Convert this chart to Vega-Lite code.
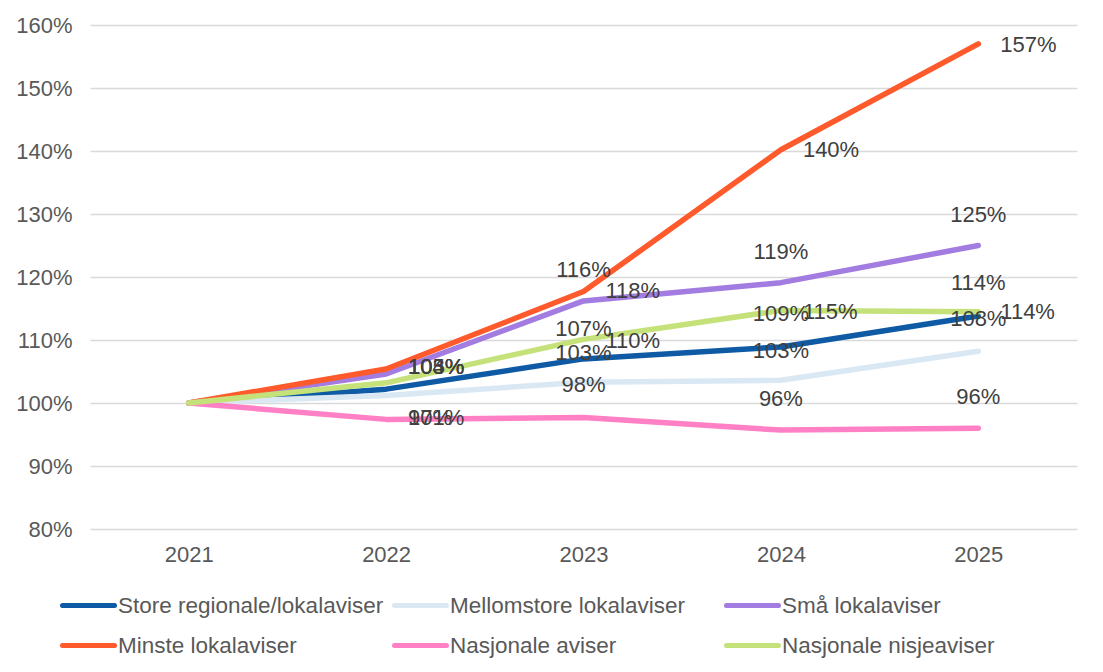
{
  "$schema": "https://vega.github.io/schema/vega-lite/v6.json",
  "autosize": "none",
  "width": 987,
  "height": 504,
  "padding": {"left": 90, "top": 25, "right": 26, "bottom": 143},
  "background": "white",
  "datasets": {
    "series": [
      {"Year": "2021", "Group": "Store regionale/lokalaviser", "Index": 1.0},
      {"Year": "2022", "Group": "Store regionale/lokalaviser", "Index": 1.022},
      {"Year": "2023", "Group": "Store regionale/lokalaviser", "Index": 1.070},
      {"Year": "2024", "Group": "Store regionale/lokalaviser", "Index": 1.089},
      {"Year": "2025", "Group": "Store regionale/lokalaviser", "Index": 1.138},
      {"Year": "2021", "Group": "Mellomstore lokalaviser", "Index": 1.0},
      {"Year": "2022", "Group": "Mellomstore lokalaviser", "Index": 1.012},
      {"Year": "2023", "Group": "Mellomstore lokalaviser", "Index": 1.033},
      {"Year": "2024", "Group": "Mellomstore lokalaviser", "Index": 1.036},
      {"Year": "2025", "Group": "Mellomstore lokalaviser", "Index": 1.082},
      {"Year": "2021", "Group": "Små lokalaviser", "Index": 1.0},
      {"Year": "2022", "Group": "Små lokalaviser", "Index": 1.046},
      {"Year": "2023", "Group": "Små lokalaviser", "Index": 1.162},
      {"Year": "2024", "Group": "Små lokalaviser", "Index": 1.191},
      {"Year": "2025", "Group": "Små lokalaviser", "Index": 1.250},
      {"Year": "2021", "Group": "Minste lokalaviser", "Index": 1.0},
      {"Year": "2022", "Group": "Minste lokalaviser", "Index": 1.054},
      {"Year": "2023", "Group": "Minste lokalaviser", "Index": 1.177},
      {"Year": "2024", "Group": "Minste lokalaviser", "Index": 1.402},
      {"Year": "2025", "Group": "Minste lokalaviser", "Index": 1.570},
      {"Year": "2021", "Group": "Nasjonale aviser", "Index": 1.0},
      {"Year": "2022", "Group": "Nasjonale aviser", "Index": 0.974},
      {"Year": "2023", "Group": "Nasjonale aviser", "Index": 0.977},
      {"Year": "2024", "Group": "Nasjonale aviser", "Index": 0.957},
      {"Year": "2025", "Group": "Nasjonale aviser", "Index": 0.960},
      {"Year": "2021", "Group": "Nasjonale nisjeaviser", "Index": 1.0},
      {"Year": "2022", "Group": "Nasjonale nisjeaviser", "Index": 1.032},
      {"Year": "2023", "Group": "Nasjonale nisjeaviser", "Index": 1.101},
      {"Year": "2024", "Group": "Nasjonale nisjeaviser", "Index": 1.147},
      {"Year": "2025", "Group": "Nasjonale nisjeaviser", "Index": 1.145}
    ],
    "labels": [
      {"Year": "2022", "At": 1.057, "Text": "104%", "Placement": "right"},
      {"Year": "2022", "At": 1.057, "Text": "105%", "Placement": "right"},
      {"Year": "2022", "At": 1.057, "Text": "103%", "Placement": "right"},
      {"Year": "2022", "At": 0.976, "Text": "101%", "Placement": "right"},
      {"Year": "2022", "At": 0.976, "Text": "97%", "Placement": "right"},
      {"Year": "2023", "At": 1.177, "Text": "118%", "Placement": "right"},
      {"Year": "2023", "At": 1.098, "Text": "110%", "Placement": "right"},
      {"Year": "2024", "At": 1.401, "Text": "140%", "Placement": "right"},
      {"Year": "2024", "At": 1.145, "Text": "115%", "Placement": "right"},
      {"Year": "2025", "At": 1.569, "Text": "157%", "Placement": "right"},
      {"Year": "2025", "At": 1.144, "Text": "114%", "Placement": "right"},
      {"Year": "2023", "At": 1.211, "Text": "116%", "Placement": "center"},
      {"Year": "2023", "At": 1.117, "Text": "107%", "Placement": "center"},
      {"Year": "2023", "At": 1.080, "Text": "103%", "Placement": "center"},
      {"Year": "2023", "At": 1.028, "Text": "98%", "Placement": "center"},
      {"Year": "2024", "At": 1.240, "Text": "119%", "Placement": "center"},
      {"Year": "2024", "At": 1.141, "Text": "109%", "Placement": "center"},
      {"Year": "2024", "At": 1.083, "Text": "103%", "Placement": "center"},
      {"Year": "2024", "At": 1.006, "Text": "96%", "Placement": "center"},
      {"Year": "2025", "At": 1.299, "Text": "125%", "Placement": "center"},
      {"Year": "2025", "At": 1.191, "Text": "114%", "Placement": "center"},
      {"Year": "2025", "At": 1.133, "Text": "108%", "Placement": "center"},
      {"Year": "2025", "At": 1.009, "Text": "96%", "Placement": "center"}
    ]
  },
  "encoding": {
    "x": {
      "field": "Year",
      "type": "ordinal",
      "scale": {"type": "point", "padding": 0.5},
      "axis": {
        "title": null,
        "labelAngle": 0,
        "labelPadding": 15,
        "ticks": false,
        "domain": false,
        "grid": false
      }
    }
  },
  "layer": [
    {
      "data": {"name": "series"},
      "mark": {"type": "line", "strokeWidth": 5.5, "strokeCap": "round", "strokeJoin": "round"},
      "encoding": {
        "y": {
          "field": "Index",
          "type": "quantitative",
          "scale": {"domain": [0.8, 1.6], "nice": false, "zero": false},
          "axis": {
            "title": null,
            "format": ".0%",
            "values": [0.8, 0.9, 1.0, 1.1, 1.2, 1.3, 1.4, 1.5, 1.6],
            "ticks": false,
            "domain": false,
            "labelPadding": 18,
            "gridColor": "#d9d9d9",
            "gridWidth": 1.5
          }
        },
        "color": {
          "field": "Group",
          "type": "nominal",
          "sort": null,
          "scale": {
            "domain": [
              "Store regionale/lokalaviser",
              "Mellomstore lokalaviser",
              "Små lokalaviser",
              "Minste lokalaviser",
              "Nasjonale aviser",
              "Nasjonale nisjeaviser"
            ],
            "range": ["#0e5aa4", "#dae8f4", "#a27ce0", "#ff5a2c", "#ff80c4", "#c5e17a"]
          },
          "legend": {
            "title": null,
            "orient": "none",
            "legendX": -30,
            "legendY": 552,
            "direction": "horizontal",
            "columns": 3,
            "gridAlign": "all",
            "columnPadding": 0,
            "rowPadding": -1,
            "padding": 0,
            "symbolType": "stroke",
            "symbolSize": 2704,
            "symbolStrokeWidth": 5,
            "labelOffset": 1,
            "labelLimit": 400,
            "labelFontSize": 22.5,
            "encode": {"symbols": {"update": {"strokeCap": {"value": "round"}}}}
          }
        }
      }
    },
    {
      "data": {"name": "labels"},
      "transform": [{"filter": "datum.Placement == 'center'"}],
      "mark": {"type": "text", "align": "center", "baseline": "middle", "fontSize": 22, "color": "#404040", "font": "Liberation Sans"},
      "encoding": {
        "y": {"field": "At", "type": "quantitative"},
        "text": {"field": "Text", "type": "nominal"}
      }
    },
    {
      "data": {"name": "labels"},
      "transform": [{"filter": "datum.Placement == 'right'"}],
      "mark": {"type": "text", "align": "left", "baseline": "middle", "dx": 22, "fontSize": 22, "color": "#404040", "font": "Liberation Sans"},
      "encoding": {
        "y": {"field": "At", "type": "quantitative"},
        "text": {"field": "Text", "type": "nominal"}
      }
    }
  ],
  "config": {
    "view": {"stroke": null},
    "font": "Liberation Sans",
    "axis": {"labelFont": "Liberation Sans", "labelFontSize": 22, "labelColor": "#595959"},
    "legend": {"labelFont": "Liberation Sans", "labelFontSize": 22, "labelColor": "#595959"}
  }
}
